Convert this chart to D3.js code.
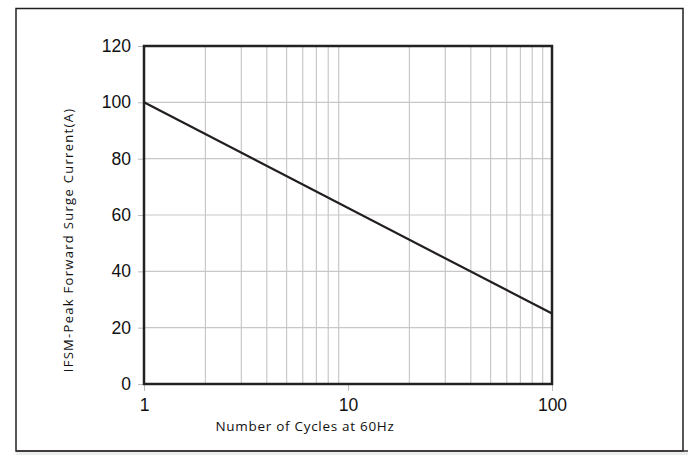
<!DOCTYPE html>
<html><head><meta charset="utf-8">
<script src="https://cdn.jsdelivr.net/npm/d3@7"></script>
<style>body{margin:0;background:#fff}svg{display:block}</style>
</head><body>
<svg id="c" width="688" height="455"></svg>
<script>
const cycles = [1, 100];
const current = [100, 25];
const xTicks = [1, 10, 100];
const yTicks = [0, 20, 40, 60, 80, 100, 120];
const xGrid = [2,3,4,5,6,7,8,9,20,30,40,50,60,70,80,90];
const yGrid = [20, 40, 60, 80, 100];

const svg = d3.select("#c");
const L = 144, R = 552, T = 46, B = 384;
const x = d3.scaleLog().domain([1, 100]).range([L, R]);
const y = d3.scaleLinear().domain([0, 120]).range([B, T]);

// outer frame
svg.append("rect").attr("x",16).attr("y",8.5).attr("width",667).attr("height",442.5)
  .attr("fill","none").attr("stroke","#231f20").attr("stroke-width",1.5);
svg.append("rect").attr("x",16).attr("y",452).attr("width",672).attr("height",3).attr("fill","#eceeee");
svg.append("line").attr("x1",16).attr("x2",688).attr("y1",451).attr("y2",451).attr("stroke","#3a3536").attr("stroke-width",1.5);

// grid
svg.append("g").selectAll("line").data(xGrid).join("line")
  .attr("x1",d=>x(d)).attr("x2",d=>x(d)).attr("y1",T).attr("y2",B)
  .attr("stroke","#c8c8c8").attr("stroke-width",1.2);
svg.append("g").selectAll("line").data(yGrid).join("line")
  .attr("x1",L).attr("x2",R).attr("y1",d=>y(d)).attr("y2",d=>y(d))
  .attr("stroke","#c8c8c8").attr("stroke-width",1.2);

// axes
const xa = svg.append("g").attr("transform",`translate(0,${B})`)
  .call(d3.axisBottom(x).tickValues(xTicks).tickFormat(d3.format("d")).tickSize(7).tickPadding(8));
const ya = svg.append("g").attr("transform",`translate(${L},0)`)
  .call(d3.axisLeft(y).tickValues(yTicks).tickSize(6).tickPadding(7));
[xa, ya].forEach(g => {
  g.select(".domain").remove();
  g.selectAll(".tick line").attr("stroke","#bbb");
  g.selectAll("text").attr("font-family","Liberation Sans, Arial, sans-serif").attr("font-size",17.5).attr("fill","#111");
});

// plot box
svg.append("rect").attr("x",L).attr("y",T).attr("width",R-L).attr("height",B-T)
  .attr("fill","none").attr("stroke","#222").attr("stroke-width",2.5);

// line
const pts = cycles.map((c,i)=>[c,current[i]]);
svg.append("path").datum(pts)
  .attr("d", d3.line().x(d=>x(d[0])).y(d=>y(d[1])))
  .attr("fill","none").attr("stroke","#231f20").attr("stroke-width",2.2);

// titles
svg.append("text").attr("x",305).attr("y",431).attr("text-anchor","middle")
  .attr("font-family","Open Sans, sans-serif").attr("font-size",13.5).attr("fill","#111")
  .attr("letter-spacing",0.7)
  .text("Number of Cycles at 60Hz");
svg.append("text").attr("transform","translate(73,240) rotate(-90)").attr("text-anchor","middle")
  .attr("font-family","Open Sans, sans-serif").attr("font-size",13).attr("fill","#111")
  .attr("letter-spacing",1.3)
  .text("IFSM-Peak Forward Surge Current(A)");
</script>
</body></html>
